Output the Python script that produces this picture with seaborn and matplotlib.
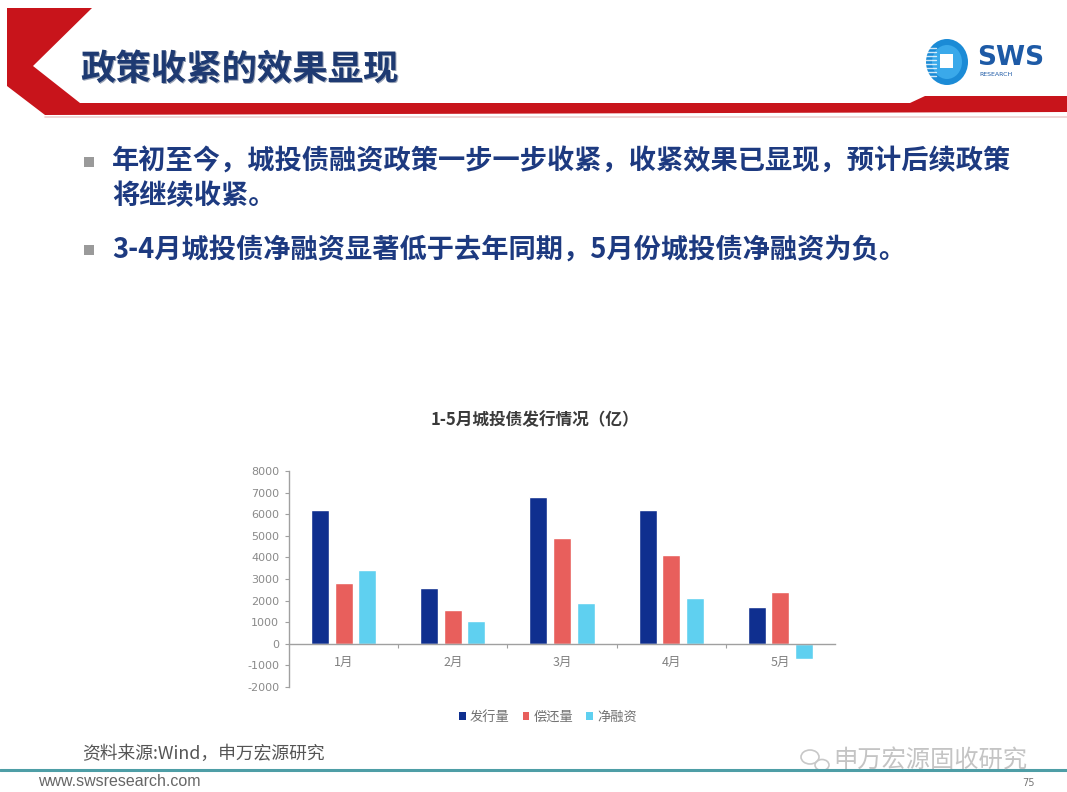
import matplotlib
matplotlib.use("Agg")
import matplotlib.pyplot as plt
import matplotlib.patches as mpatches
import seaborn as sns
import pandas as pd

# ---------------- data ----------------
months = ["1月", "2月", "3月", "4月", "5月"]
series_names = ["发行量", "偿还量", "净融资"]
issuance = [6200, 2600, 6800, 6200, 1700]
repayment = [2800, 1550, 4900, 4100, 2400]
net_financing = [3400, 1050, 1900, 2100, -700]
y_ticks = list(range(-2000, 8001, 1000))

chart_title = "1-5月城投债发行情况（亿）"
slide_title = "政策收紧的效果显现"
bullet1_l1 = "年初至今，城投债融资政策一步一步收紧，收紧效果已显现，预计后续政策"
bullet1_l2 = "将继续收紧。"
bullet2 = "3-4月城投债净融资显著低于去年同期，5月份城投债净融资为负。"
source_note = "资料来源:Wind，申万宏源研究"
website = "www.swsresearch.com"
page_no = "75"
watermark = "申万宏源固收研究"

colors = ["#0f2f8f", "#e85f5c", "#5fd0f0"]

df = pd.DataFrame({
    "month": months * 3,
    "series": [series_names[0]] * 5 + [series_names[1]] * 5 + [series_names[2]] * 5,
    "value": issuance + repayment + net_financing,
})

sns.set_theme(style="white")
plt.rcParams["font.family"] = ["Noto Sans CJK SC", "DejaVu Sans"]
plt.rcParams["axes.unicode_minus"] = False

W, H = 1067, 792
fig = plt.figure(figsize=(W / 100, H / 100), dpi=100)
fig.patch.set_facecolor("white")

# ---------------- slide decorations (pixel coordinates) ----------------
deco = fig.add_axes([0, 0, 1, 1], zorder=0)
deco.set_xlim(0, W)
deco.set_ylim(H, 0)
deco.axis("off")

red = "#c8141b"
chevron = [(7, 8), (92, 8), (33, 66), (80, 103), (910, 103), (925, 96),
           (1067, 96), (1067, 112), (45, 115), (7, 86)]
deco.add_patch(mpatches.Polygon(chevron, closed=True, facecolor=red, edgecolor="none"))
deco.plot([45, 1067], [117, 117], color="#e0b0b0", lw=1.2, alpha=0.6)

# header title with slight shadow
deco.text(81.5, 70.5, slide_title, fontsize=25.5, fontweight="bold", color="#9aa3b5",
          va="center", ha="left")
deco.text(80, 69, slide_title, fontsize=25.5, fontweight="bold", color="#1e3a72",
          va="center", ha="left")

# SWS logo
deco.add_patch(mpatches.Ellipse((947, 62), 42, 46, facecolor="#1b8bd6", edgecolor="none"))
deco.add_patch(mpatches.Ellipse((947, 62), 30, 34, facecolor="#3aa9ea", edgecolor="none"))
deco.add_patch(mpatches.Rectangle((940, 54), 13, 14, facecolor="white", edgecolor="none"))
for yy in range(48, 80, 4):
    deco.plot([924, 936], [yy, yy], color="white", lw=1.0, alpha=0.8)
deco.text(977, 58, "SWS", fontsize=19, fontweight="bold", color="#1d5aa6",
          va="center", ha="left", family=["DejaVu Sans"])
deco.text(979, 74, "RESEARCH", fontsize=4.5, color="#1d5aa6", va="center", ha="left",
          family=["DejaVu Sans"])

# bullets
for yb in (162, 250):
    deco.add_patch(mpatches.Rectangle((84, yb - 5), 10, 10, facecolor="#9a9a9a", edgecolor="none"))
txt_color = "#1d3a80"
bfs = 19.6
deco.text(112, 162, bullet1_l1, fontsize=bfs, fontweight="bold", color=txt_color,
          va="center", ha="left")
deco.text(112, 196, bullet1_l2, fontsize=bfs, fontweight="bold", color=txt_color,
          va="center", ha="left")
deco.text(112, 250, bullet2, fontsize=bfs, fontweight="bold", color=txt_color,
          va="center", ha="left")

# chart title
deco.text(535, 420, chart_title, fontsize=12, fontweight="bold", color="#3a3a3a",
          va="center", ha="center")

# footer
deco.text(82, 754, source_note, fontsize=12.8, color="#555555", va="center", ha="left")
deco.plot([0, W], [770, 770], color="#4e9ea6", lw=2.2)
deco.text(38, 782, website, fontsize=11.5, color="#666666", va="center", ha="left",
          family=["Liberation Sans", "DejaVu Sans"])
deco.text(1022, 783, page_no, fontsize=7, color="#777777", va="center", ha="left",
          family=["DejaVu Sans"])
deco.add_patch(mpatches.Ellipse((810, 757), 18, 14, facecolor="none", edgecolor="#c8c8c8", lw=1.2))
deco.add_patch(mpatches.Ellipse((822, 765), 14, 11, facecolor="none", edgecolor="#c8c8c8", lw=1.2))
deco.text(833, 761, watermark, fontsize=17.5, color="#c4c4c4", va="center", ha="left")

# ---------------- chart ----------------
ax_left, ax_right = 289, 835
ax_top, ax_bottom = 471, 687
ax = fig.add_axes([ax_left / W, 1 - ax_bottom / H, (ax_right - ax_left) / W,
                   (ax_bottom - ax_top) / H], zorder=2)
ax.patch.set_alpha(0)

sns.barplot(data=df, x="month", y="value", hue="series", order=months,
            hue_order=series_names, palette=colors, width=0.65, gap=0.24,
            saturation=1, ax=ax, legend=False)

ax.set_xlim(-0.5, 4.5)
ax.set_ylim(-2000, 8000)
ax.set_yticks(y_ticks)
ax.set_yticklabels([str(v) for v in y_ticks], family=["DejaVu Sans"])
ax.set_xlabel("")
ax.set_ylabel("")

for s in ("top", "right"):
    ax.spines[s].set_visible(False)
ax.spines["left"].set_color("#a0a0a0")
ax.spines["left"].set_linewidth(1.0)
ax.spines["bottom"].set_position(("data", 0))
ax.spines["bottom"].set_color("#a0a0a0")
ax.spines["bottom"].set_linewidth(1.0)

ax.tick_params(axis="y", direction="out", length=3, width=0.8, color="#a0a0a0",
               labelsize=8, labelcolor="#8a8a8a", pad=4, left=True)
ax.tick_params(axis="x", which="major", length=0, labelsize=9, labelcolor="#808080", pad=9,
               bottom=True)
ax.set_xticks([0.5, 1.5, 2.5, 3.5], minor=True)
ax.tick_params(axis="x", which="minor", direction="out", length=3, width=0.8,
               color="#a0a0a0", bottom=True)
ax.grid(False)

handles = [mpatches.Patch(facecolor=c, edgecolor="none", label=n) for c, n in zip(colors, series_names)]
leg = fig.legend(handles=handles, loc="center", bbox_to_anchor=(548 / W, 1 - 717 / H),
                 ncol=3, frameon=False, fontsize=9.5, handlelength=0.5, handleheight=0.5,
                 handletextpad=0.3, columnspacing=1.0)
for t in leg.get_texts():
    t.set_color("#707070")

fig.savefig("out.png", dpi=100, facecolor="white")
